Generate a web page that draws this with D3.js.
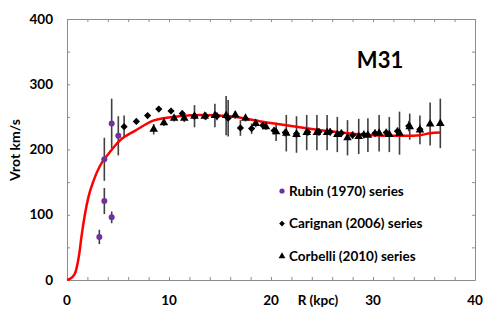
<!DOCTYPE html>
<html>
<head>
<meta charset="utf-8">
<script src="https://cdn.jsdelivr.net/npm/d3@7"></script>
<style>
  body { margin: 0; background: #fff; }
  svg { display: block; font-family: Lato, "Open Sans", sans-serif; font-weight: bold; }
</style>
</head>
<body>
<svg id="chart" width="498" height="312"></svg>
<script>
// ---- data ----
const rubinR = [3.17, 3.66, 3.66, 4.38, 4.38, 5.03];
const rubinV = [66, 121, 185, 96, 240, 221];
const rubinE = [11, 20, 33, 9, 38, 30];

const carignanR = [5.6, 6.8, 7.9, 9.0, 10.2, 11.3, 12.5, 13.6, 14.7, 15.8, 17.0, 18.1, 19.2, 20.3, 21.4, 22.5, 23.6, 24.7, 25.8, 26.9, 28.0, 29.1, 30.2, 31.3, 32.4, 33.5, 34.6];
const carignanV = [235, 243, 252, 262, 259, 255, 251, 251, 251, 248, 233, 232, 237, 229, 226, 224, 227, 227, 227, 225, 222, 223, 225, 226, 228, 236, 231];
const carignanE = [17, 4, 4, 4, 4, 5, 5, 6, 6, 28, 12, 8, 6, 6, 6, 6, 6, 6, 6, 6, 6, 6, 6, 6, 6, 8, 8];

const corbelliR = [8.5, 9.5, 10.5, 11.5, 12.5, 13.5, 14.5, 15.6, 16.5, 17.5, 18.5, 19.5, 20.5, 21.5, 22.5, 23.5, 24.5, 25.5, 26.5, 27.5, 28.6, 29.5, 30.6, 31.6, 32.6, 33.6, 34.6, 35.6, 36.6];
const corbelliV = [231, 241, 248, 248, 251, 251, 252, 252, 253, 248, 240, 235, 227, 225, 223, 226, 226, 226, 223, 218, 220, 222, 225, 223, 225, 235, 230, 239, 240];
const corbelliE = [8, 5, 5, 6, 17, 5, 18, 30, 6, 5, 6, 5, 14, 28, 28, 27, 27, 27, 27, 27, 27, 26, 28, 27, 33, 20, 22, 33, 38];

// model curve
const modelR = [0, 0.5, 0.85, 1.2, 1.45, 1.75, 2.1, 2.6, 3.2, 4, 5.2, 6.7, 8.6, 11, 13, 16, 19, 22.5, 25.8, 29, 31.3, 33.3, 34.6, 35.6, 36.6];
const modelV = [0, 4, 13, 40, 70, 100, 127, 152, 174, 192, 214, 229, 245, 251, 253, 251, 243, 235, 228, 223, 221, 221, 222, 225, 226];

const xLabels = [0, 10, 20, 30, 40];
const yLabels = [0, 100, 200, 300, 400];

const legendItems = [
  { label: "Rubin (1970) series", kind: "circle" },
  { label: "Carignan (2006) series", kind: "diamond" },
  { label: "Corbelli (2010) series", kind: "triangle" }
];

// ---- layout ----
const svg = d3.select("#chart");
const plotLeft = 67, plotRight = 475, plotTop = 19, plotBottom = 280;
const axisColor = "#8c8c8c";

const x = d3.scaleLinear().domain([0, 40]).range([plotLeft, plotRight]);
const y = d3.scaleLinear().domain([0, 400]).range([plotBottom, plotTop]);

// frame with inward ticks on all four sides
const styleAxis = g => {
  g.select(".domain").attr("stroke", axisColor);
  g.selectAll(".tick line").attr("stroke", axisColor);
};

svg.append("g")
  .attr("transform", `translate(0,${plotBottom})`)
  .call(d3.axisBottom(x).tickValues(d3.range(0, 41, 2)).tickSize(-3).tickSizeOuter(0).tickFormat(""))
  .call(styleAxis);
svg.append("g")
  .attr("transform", `translate(0,${plotTop})`)
  .call(d3.axisTop(x).tickValues(d3.range(0, 41, 2)).tickSize(-3).tickSizeOuter(0).tickFormat(""))
  .call(styleAxis);
svg.append("g")
  .attr("transform", `translate(${plotLeft},0)`)
  .call(d3.axisLeft(y).tickValues(d3.range(0, 401, 50)).tickSize(-3).tickSizeOuter(0).tickFormat(""))
  .call(styleAxis);
svg.append("g")
  .attr("transform", `translate(${plotRight},0)`)
  .call(d3.axisRight(y).tickValues(d3.range(0, 401, 50)).tickSize(-3).tickSizeOuter(0).tickFormat(""))
  .call(styleAxis);

// tick labels
svg.append("g").selectAll("text")
  .data(xLabels)
  .join("text")
    .attr("x", d => x(d))
    .attr("y", 305)
    .attr("text-anchor", "middle")
    .attr("font-size", 13.5)
    .attr("fill", "#000")
    .text(d => d);

svg.append("g").selectAll("text")
  .data(yLabels)
  .join("text")
    .attr("x", 53)
    .attr("y", d => y(d) + 4.5)
    .attr("text-anchor", "end")
    .attr("font-size", 13.5)
    .attr("fill", "#000")
    .text(d => d);

// axis titles
svg.append("text")
  .attr("x", x(24.6))
  .attr("y", 305)
  .attr("text-anchor", "middle")
  .attr("font-size", 13.5)
  .text("R (kpc)");

svg.append("text")
  .attr("transform", "translate(20,150) rotate(-90)")
  .attr("text-anchor", "middle")
  .attr("font-size", 14)
  .text("Vrot km/s");

svg.append("text")
  .attr("x", 380)
  .attr("y", 68)
  .attr("text-anchor", "middle")
  .attr("font-size", 22)
  .text("M31");

// ---- error bars ----
const errColor = "#404040";
const drawErrors = (rs, vs, es) => {
  svg.append("g").selectAll("line")
    .data(rs.map((r, i) => ({ r, v: vs[i], e: es[i] })))
    .join("line")
      .attr("x1", d => x(d.r))
      .attr("x2", d => x(d.r))
      .attr("y1", d => y(d.v - d.e))
      .attr("y2", d => y(d.v + d.e))
      .attr("stroke", errColor)
      .attr("stroke-width", 1.6);
};
drawErrors(rubinR, rubinV, rubinE);
drawErrors(carignanR, carignanV, carignanE);
drawErrors(corbelliR, corbelliV, corbelliE);

// ---- model curve ----
const line = d3.line()
  .x((d, i) => x(modelR[i]))
  .y(d => y(d))
  .curve(d3.curveMonotoneX);

svg.append("path")
  .datum(modelV)
  .attr("d", line)
  .attr("fill", "none")
  .attr("stroke", "#ff0000")
  .attr("stroke-width", 2.5);

// ---- markers ----
const diamond = d3.symbol(d3.symbolSquare, 26);
const triangle = d3.symbol(d3.symbolTriangle, 32);

svg.append("g").selectAll("path")
  .data(carignanR.map((r, i) => ({ r, v: carignanV[i] })))
  .join("path")
    .attr("d", diamond)
    .attr("transform", d => `translate(${x(d.r)},${y(d.v)}) rotate(45)`)
    .attr("fill", "#000");

svg.append("g").selectAll("path")
  .data(corbelliR.map((r, i) => ({ r, v: corbelliV[i] })))
  .join("path")
    .attr("d", triangle)
    .attr("transform", d => `translate(${x(d.r)},${y(d.v)})`)
    .attr("fill", "#000");

svg.append("g").selectAll("circle")
  .data(rubinR.map((r, i) => ({ r, v: rubinV[i] })))
  .join("circle")
    .attr("cx", d => x(d.r))
    .attr("cy", d => y(d.v))
    .attr("r", 3)
    .attr("fill", "#7030a0");

// ---- legend ----
const legend = svg.append("g").selectAll("g")
  .data(legendItems)
  .join("g")
    .attr("transform", (d, i) => `translate(282,${191 + i * 32.6})`);

legend.each(function(d) {
  const g = d3.select(this);
  if (d.kind === "circle") {
    g.append("circle").attr("r", 2.6).attr("fill", "#7030a0");
  } else if (d.kind === "diamond") {
    g.append("path").attr("d", d3.symbol(d3.symbolSquare, 16)).attr("transform", "rotate(45)").attr("fill", "#000");
  } else {
    g.append("path").attr("d", d3.symbol(d3.symbolTriangle, 20)).attr("fill", "#000");
  }
});

legend.append("text")
  .attr("x", 7)
  .attr("y", 4.5)
  .attr("font-size", 13.5)
  .text(d => d.label);
</script>
</body>
</html>
